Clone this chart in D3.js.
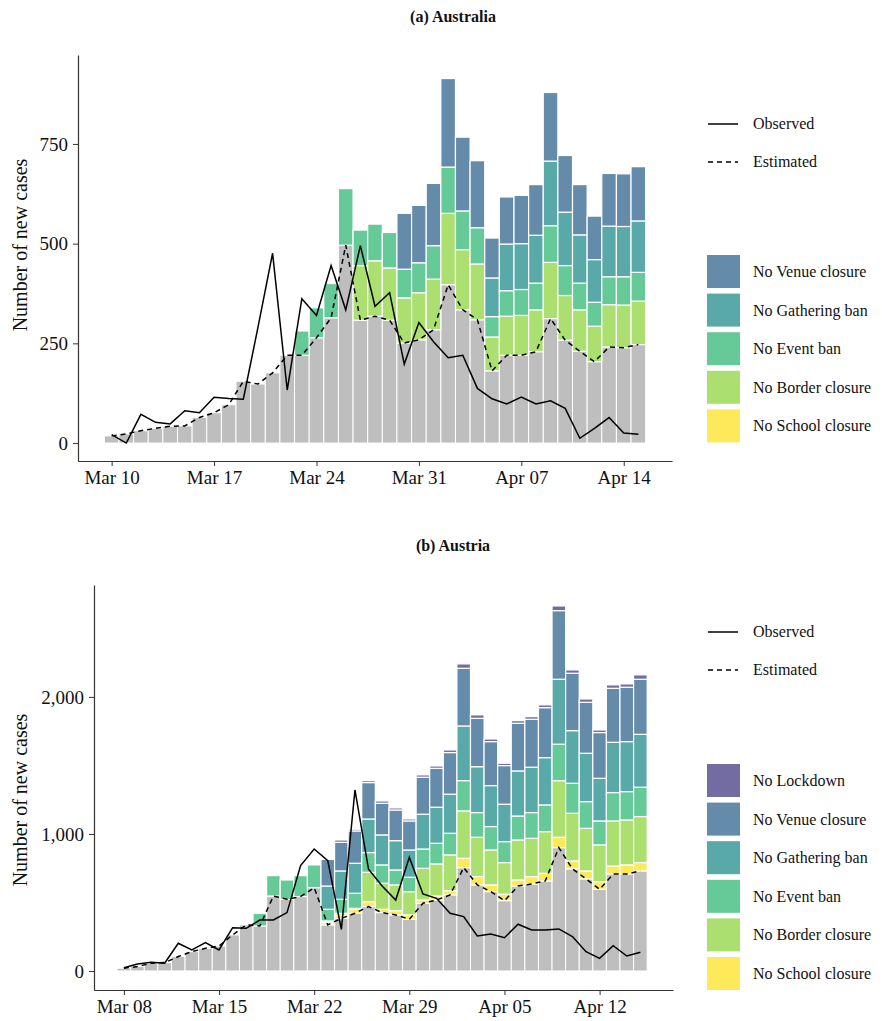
<!DOCTYPE html>
<html>
<head>
<meta charset="utf-8">
<script src="https://cdn.jsdelivr.net/npm/d3@7"></script>
<style>
body { margin: 0; background: #fff; }
text { font-family: "Liberation Serif", "DejaVu Serif", serif; fill: #111; }
</style>
</head>
<body>
<svg id="chart" width="882" height="1021"></svg>
<script>
// Australia, Mar 10 - Apr 15 (cumulative levels, null = no segment)
const auStart = new Date(2020, 2, 10)
const auEst = [18,23,31,37,42,43,64,76,96,155,148,176,220,220,264,314,496,308,318,308,251,259,284,397,334,309,181,220,220,229,312,258,230,204,241,239,247]
const auObs = [21,0,72,52,48,81,76,115,112,110,290,476,133,362,320,445,334,495,343,377,198,302,254,214,220,137,111,98,115,98,106,87,12,37,64,25,22]
const N = null
const auSchool = auEst.map(() => null)
const auBorder = [N,N,N,N,N,N,N,N,N,N,N,N,N,N,N,N,N,445,457,439,364,377,411,576,485,449,266,318,320,334,453,370,334,293,347,346,356]
const auEvent = [N,N,N,N,N,N,N,N,N,N,N,N,N,281,339,400,638,534,549,528,436,452,495,692,582,540,317,382,385,401,545,445,401,353,417,417,428]
const auGathering = [N,N,N,N,N,N,N,N,N,N,N,N,N,N,N,N,N,N,N,N,N,N,N,N,N,N,414,499,500,521,707,579,522,460,544,543,557]
const auVenue = [N,N,N,N,N,N,N,N,N,N,N,N,N,N,N,N,N,N,N,N,576,596,651,914,767,708,514,617,621,648,879,721,648,569,676,675,693]
const auTicks = [0, 250, 500, 750]

// Austria, Mar 08 - Apr 15
const atStart = new Date(2020, 2, 8)
const atEst = [20,32,56,61,105,141,165,182,263,336,328,547,523,543,608,336,384,421,470,426,409,377,494,518,555,754,628,579,513,620,635,657,900,745,672,596,708,708,730]
const atObs = [24,51,63,56,202,153,207,153,316,311,372,372,426,769,890,805,304,1321,742,620,518,830,562,530,421,397,255,270,243,341,299,299,307,251,141,92,185,109,136]
const pre15 = [N,N,N,N,N,N,N,N,N,N,N,N,N,N,N]
const atSchool = pre15.concat([353,409,450,506,450,440,409,518,547,586,822,689,628,560,664,689,713,976,803,730,652,766,774,791])
const atBorder = pre15.concat([365,421,457,720,640,628,579,749,781,847,1168,976,883,791,956,968,1017,1389,1151,1041,920,1095,1102,1127])
const atEvent = [N,N,N,N,N,N,N,N,N,N,421,696,664,696,774,450,523,567,864,774,737,684,890,932,1005,1389,1156,1054,944,1131,1156,1212,1655,1370,1236,1095,1302,1309,1341]
const atGathering = pre15.concat([620,730,786,1109,993,951,883,1144,1195,1290,1788,1491,1353,1217,1460,1487,1557,2129,1754,1589,1406,1669,1674,1727])
const atVenue = pre15.concat([815,939,1022,1375,1224,1175,1095,1414,1479,1594,2209,1844,1674,1499,1808,1837,1922,2630,2173,1961,1740,2063,2071,2129])
const atLockdown = pre15.concat([822,956,1034,1389,1241,1190,1109,1431,1496,1613,2241,1869,1693,1516,1827,1856,1942,2664,2197,1985,1759,2088,2095,2161])
const atTicks = [0, 1000, 2000]

const colors = {
    "No Lockdown": "#736ca3",
    "No Venue closure": "#648ba9",
    "No Gathering ban": "#5aa9a9",
    "No Event ban": "#66c998",
    "No Border closure": "#abe070",
    "No School closure": "#fde95a"
}
const svg = d3.select("#chart")
const DAY = 864e5
let addDays = (d, n) => new Date(d.getTime() + n * DAY)

let drawPanel = (p) => {
    const g = svg.append("g")
    const x = d3.scaleTime()
        .domain([addDays(p.start, p.dayMin), addDays(p.start, p.dayMax)])
        .range([p.left, p.right])
    const y = d3.scaleLinear().domain(p.yDomain).range([p.bottom, p.top])
    const bw = x(addDays(p.start, 1)) - x(p.start)
    const dayX = i => x(addDays(p.start, i))

    // gray estimated bars
    g.selectAll(".base").data(p.est).enter().append("rect")
        .attr("x", (d, i) => dayX(i) - bw / 2)
        .attr("width", bw)
        .attr("y", d => y(d))
        .attr("height", d => y(0) - y(d))
        .attr("fill", "#bebebe")
        .attr("stroke", "#fff").attr("stroke-width", 1)

    // stacked counterfactual segments
    let segs = []
    p.est.forEach((e, i) => {
        let prev = e
        p.series.forEach(s => {
            let v = s.values[i]
            if (v != null) {
                segs.push({ i: i, lo: prev, hi: v, name: s.name })
                prev = v
            }
        })
    })
    g.selectAll(".seg").data(segs).enter().append("rect")
        .attr("x", d => dayX(d.i) - bw / 2)
        .attr("width", bw)
        .attr("y", d => y(d.hi))
        .attr("height", d => y(d.lo) - y(d.hi))
        .attr("fill", d => colors[d.name])
        .attr("stroke", "#fff").attr("stroke-width", 1.2)

    const line = d3.line().x((d, i) => dayX(i)).y(d => y(d))
    g.append("path").datum(p.est).attr("d", line)
        .attr("fill", "none").attr("stroke", "#000").attr("stroke-width", 1.5)
        .attr("stroke-dasharray", "5,4")
    g.append("path").datum(p.obs).attr("d", line)
        .attr("fill", "none").attr("stroke", "#000").attr("stroke-width", 1.5)

    // axes
    const xAxis = d3.axisBottom(x)
        .tickValues(d3.range(0, p.est.length, 7).map(i => addDays(p.start, i)))
        .tickFormat(d3.timeFormat("%b %d")).tickSize(5).tickSizeOuter(0)
    const xa = g.append("g").attr("transform", `translate(0,${p.bottom})`).call(xAxis)
    const yAxis = d3.axisLeft(y).tickValues(p.ticks).tickFormat(d3.format(",")).tickSize(5).tickSizeOuter(0)
    const ya = g.append("g").attr("transform", `translate(${p.left},0)`).call(yAxis)
    for (let a of [xa, ya]) {
        a.select(".domain").attr("stroke", "#333").attr("stroke-width", 1.2)
        a.selectAll(".tick line").attr("stroke", "#333")
        a.selectAll("text").attr("font-size", 19).attr("fill", "#111")
            .style("font-family", "Liberation Serif")
    }
    xa.selectAll("text").attr("dy", "0.78em")
    ya.selectAll("text").attr("dx", "-0.1em")

    g.append("text").attr("x", 453).attr("y", p.titleY).attr("text-anchor", "middle")
        .attr("font-size", 16).attr("font-weight", "bold").text(p.title)
    g.append("text").attr("transform", `translate(27,${p.labelY}) rotate(-90)`)
        .attr("text-anchor", "middle").attr("font-size", 20).text("Number of new cases")

    // legends
    const lg = g.append("g")
    ;[["Observed", null], ["Estimated", "5,4"]].forEach((d, k) => {
        const yy = p.lineLegY + k * 38
        lg.append("line").attr("x1", 708).attr("x2", 738).attr("y1", yy).attr("y2", yy)
            .attr("stroke", "#000").attr("stroke-width", 1.5).attr("stroke-dasharray", d[1])
        lg.append("text").attr("x", 753).attr("y", yy + 5).attr("font-size", 16).text(d[0])
    })
    p.series.slice().reverse().forEach((s, k) => {
        const yy = p.boxLegY + k * 38.6
        lg.append("rect").attr("x", 707).attr("y", yy).attr("width", 33).attr("height", 33)
            .attr("fill", colors[s.name])
        lg.append("text").attr("x", 753).attr("y", yy + 22).attr("font-size", 16).text(s.name)
    })
}

drawPanel({
    title: "(a) Australia", titleY: 22, labelY: 245,
    start: auStart, dayMin: -2.3, dayMax: 38.3,
    left: 78, right: 672, top: 55, bottom: 461,
    yDomain: [-45, 973], ticks: auTicks,
    est: auEst, obs: auObs,
    series: [
        { name: "No School closure", values: auSchool },
        { name: "No Border closure", values: auBorder },
        { name: "No Event ban", values: auEvent },
        { name: "No Gathering ban", values: auGathering },
        { name: "No Venue closure", values: auVenue }
    ],
    lineLegY: 124, boxLegY: 255
})
drawPanel({
    title: "(b) Austria", titleY: 551, labelY: 800,
    start: atStart, dayMin: -2.2, dayMax: 40.4,
    left: 94, right: 673, top: 585, bottom: 990,
    yDomain: [-139, 2817], ticks: atTicks,
    est: atEst, obs: atObs,
    series: [
        { name: "No School closure", values: atSchool },
        { name: "No Border closure", values: atBorder },
        { name: "No Event ban", values: atEvent },
        { name: "No Gathering ban", values: atGathering },
        { name: "No Venue closure", values: atVenue },
        { name: "No Lockdown", values: atLockdown }
    ],
    lineLegY: 632, boxLegY: 764
})
</script>
</body>
</html>
